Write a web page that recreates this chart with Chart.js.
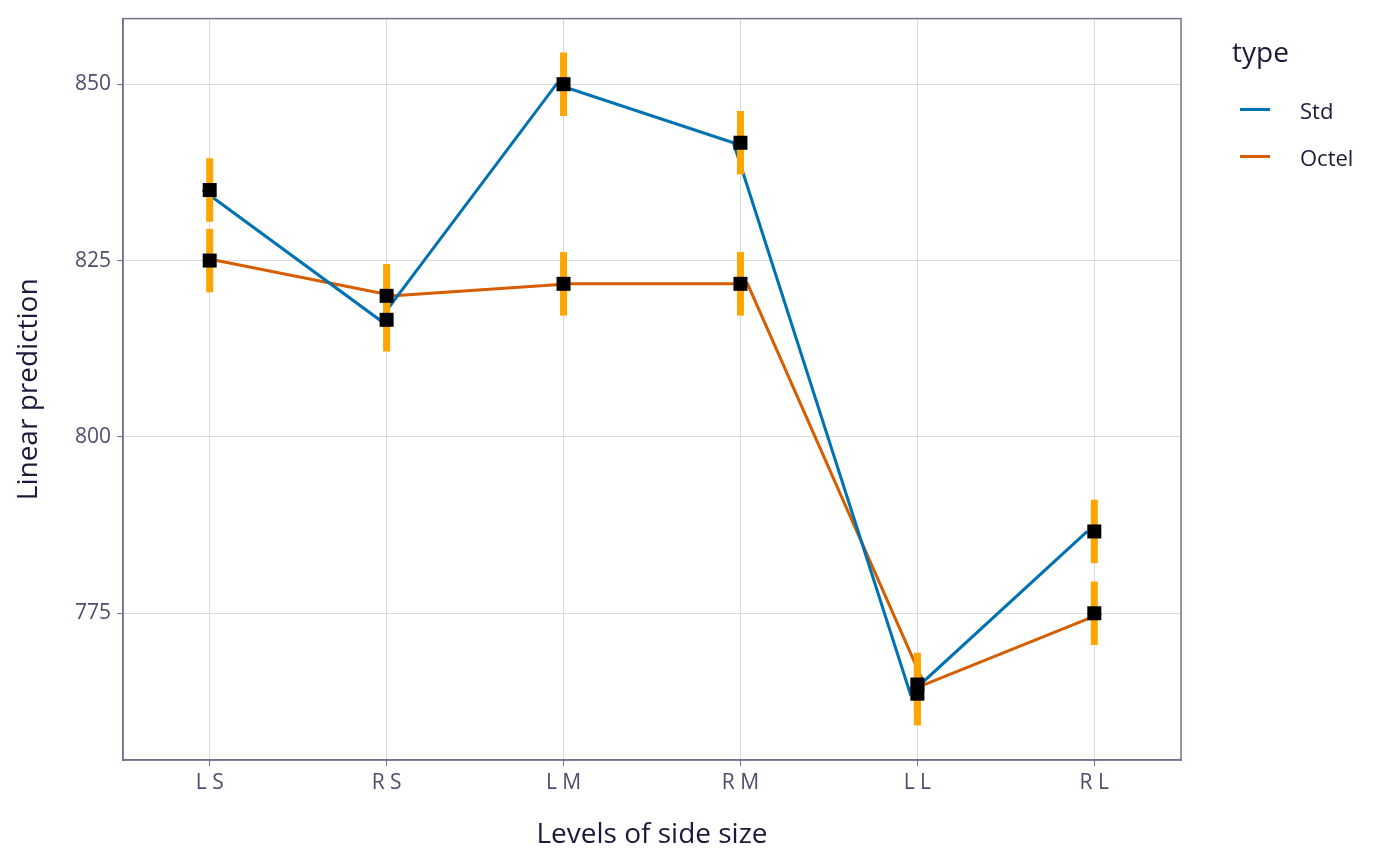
<!doctype html>
<html>
<head>
<meta charset="utf-8">
<script src="https://cdn.jsdelivr.net/npm/chart.js@4.4.1/dist/chart.umd.min.js"></script>
<style>
  body { margin: 0; background: #fff; font-family: "Open Sans", "Noto Sans", sans-serif; }
  #wrap { position: relative; width: 1400px; height: 866px; }
  .legend { position: absolute; left: 1232px; top: 32px; color: #1a1a3a; }
  .legend h4 { margin: 0 0 16px 0; font-size: 28px; font-weight: 400; line-height: 38px; }
  .item { display: flex; align-items: center; height: 47px; font-size: 22px; color: #1a1a3a; }
  .sw { width: 30px; height: 3px; margin: 0 30px 0 8px; }
</style>
</head>
<body>
<div id="wrap">
  <canvas id="c" width="1400" height="866"></canvas>
  <div class="legend">
    <h4>type</h4>
    <div class="item"><span class="sw" style="background:#0072B2"></span>Std</div>
    <div class="item"><span class="sw" style="background:#D55E00"></span>Octel</div>
  </div>
</div>
<script>
const categories = ['L S', 'R S', 'L M', 'R M', 'L L', 'R L'];
const stdValues = [835.0, 816.6, 850.0, 841.7, 763.6, 786.6];
const octelValues = [825.0, 820.0, 821.7, 821.7, 764.9, 775.0];
const errHalf = 4.5;
const yTicks = [775, 800, 825, 850];

const toPts = (vals, dx) => vals.map((v, i) => ({ x: i + dx, y: v }));

const markers = {
  id: 'markers',
  afterDatasetsDraw(chart) {
    const { ctx, scales: { x, y } } = chart;
    ctx.save();
    [stdValues, octelValues].forEach(vals => {
      vals.forEach((v, i) => {
        const px = x.getPixelForValue(i);
        ctx.fillStyle = '#FFA500';
        const top = y.getPixelForValue(v + errHalf), bot = y.getPixelForValue(v - errHalf);
        ctx.fillRect(px - 3.5, top, 7, bot - top);
      });
    });
    [stdValues, octelValues].forEach(vals => {
      vals.forEach((v, i) => {
        const px = x.getPixelForValue(i), py = y.getPixelForValue(v);
        ctx.fillStyle = '#000';
        ctx.fillRect(px - 7, py - 7, 14, 14);
      });
    });
    ctx.restore();
  }
};

new Chart(document.getElementById('c'), {
  type: 'scatter',
  data: {
    datasets: [
      { label: 'Std', data: toPts(stdValues, -0.04), showLine: true, borderColor: '#0072B2', borderWidth: 3, pointRadius: 0, tension: 0 },
      { label: 'Octel', data: toPts(octelValues, 0.04), showLine: true, borderColor: '#D55E00', borderWidth: 3, pointRadius: 0, tension: 0 }
    ]
  },
  options: {
    responsive: false,
    animation: false,
    layout: { padding: { top: 17, right: 219, left: 12, bottom: 0 } },
    plugins: { legend: { display: false }, tooltip: { enabled: false } },
    scales: {
      x: {
        type: 'linear', min: -0.49, max: 5.49,
        afterFit(s) { s.height = 106; },
        afterBuildTicks(s) { s.ticks = categories.map((_, i) => ({ value: i })); },
        ticks: { callback: v => categories[v], color: '#4d4d6d', font: { size: 21, family: 'Open Sans' }, padding: 4, autoSkip: false, maxRotation: 0 },
        grid: { color: '#d9d9d9', lineWidth: 1, drawTicks: true, tickLength: 6, tickColor: '#707090' },
        border: { color: '#707090', width: 1.5 },
        title: { display: true, text: 'Levels of side size', color: '#1a1a3a', font: { size: 28, family: 'Open Sans' }, padding: { top: 0, bottom: 14 } }
      },
      y: {
        min: 754.2, max: 859.3,
        afterFit(s) { s.width = 111; },
        afterBuildTicks(s) { s.ticks = yTicks.map(v => ({ value: v })); },
        ticks: { color: '#4d4d6d', font: { size: 21, family: 'Open Sans' }, padding: 6 },
        grid: { color: '#d9d9d9', lineWidth: 1, drawTicks: true, tickLength: 6, tickColor: '#707090' },
        border: { color: '#707090', width: 1.5 },
        title: { display: true, text: 'Linear prediction', color: '#1a1a3a', font: { size: 28, family: 'Open Sans' }, padding: 0 }
      }
    }
  },
  plugins: [markers, {
    id: 'frame',
    afterDraw(chart) {
      const { ctx, chartArea: a } = chart;
      ctx.save();
      ctx.strokeStyle = '#707090'; ctx.lineWidth = 1.5;
      ctx.strokeRect(a.left, a.top, a.right - a.left, a.bottom - a.top);
      ctx.restore();
    }
  }]
});
</script>
</body>
</html>
